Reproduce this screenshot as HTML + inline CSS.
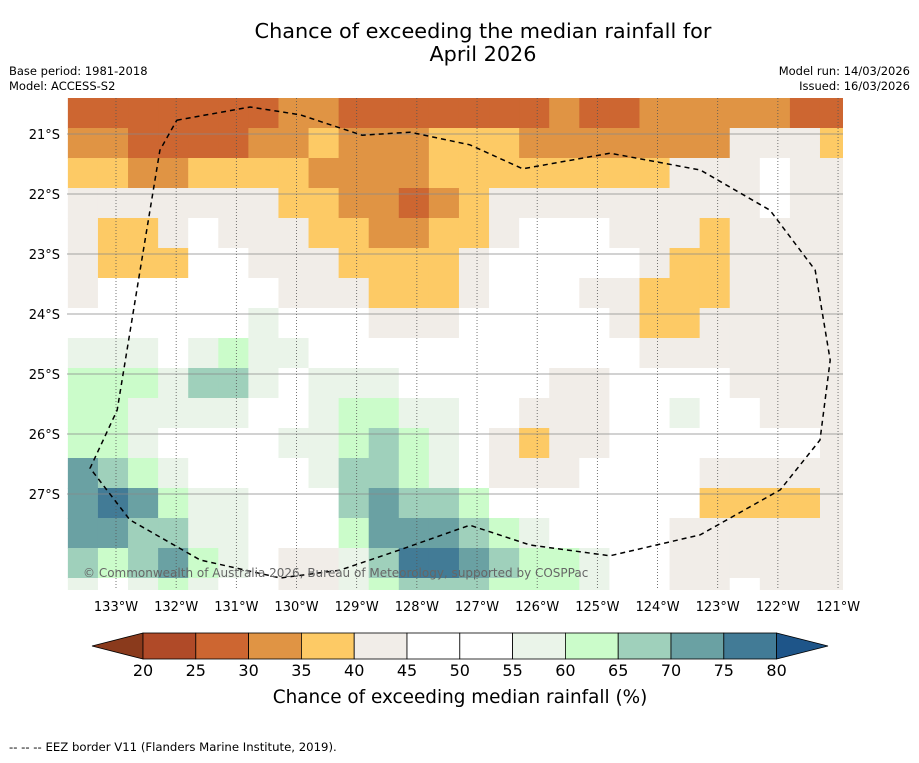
<!DOCTYPE html>
<html><head><meta charset="utf-8"><style>
body{margin:0;background:#fff;font-family:"Liberation Sans","DejaVu Sans",sans-serif}
svg text{font-family:"DejaVu Sans","Liberation Sans",sans-serif}
</style></head><body>
<svg id="c" width="919" height="758" xmlns="http://www.w3.org/2000/svg">
<text x="483" y="38" font-size="20.8" text-anchor="middle">Chance of exceeding the median rainfall for</text>
<text x="483" y="61" font-size="20.8" text-anchor="middle">April 2026</text>
<text x="9" y="75" font-size="11.5">Base period: 1981-2018</text>
<text x="9" y="90" font-size="11.5">Model: ACCESS-S2</text>
<text x="910" y="75" font-size="11.5" text-anchor="end">Model run: 14/03/2026</text>
<text x="910" y="90" font-size="11.5" text-anchor="end">Issued: 16/03/2026</text>
<g id="map"></g>
<g id="grid"></g>
<path id="eez" fill="none" stroke="#000" stroke-width="1.5" stroke-dasharray="5,4"/>
<text x="83" y="577" font-size="12" fill="#666">© Commonwealth of Australia 2026, Bureau of Meteorology, supported by COSPPac</text>
<g id="axes"></g>
<g id="cbar"></g>
<text x="460" y="703" font-size="18.4" text-anchor="middle">Chance of exceeding median rainfall (%)</text>
<text x="9" y="751" font-size="11.7">-- -- -- EEZ border V11 (Flanders Marine Institute, 2019).</text>
</svg>
<script>
const lonTicks=[133,132,131,130,129,128,127,126,125,124,123,122,121];
const latTicks=[21,22,23,24,25,26,27];
const binEdges=[20,25,30,35,40,45,50,55,60,65,70,75,80];
const binColors=["#b04a28","#cd6631","#e09444","#fdca65","#f1ede8","#ffffff","#ffffff","#eaf4e9","#cbfcca","#9fd0bb","#6aa1a3","#427b96"];
const lowColor="#8a3a1c", highColor="#1e5589";
const gridLon0=133.8, gridLat0=20.4, cellDeg=0.5;
const values=[
[27,27,27,27,27,27,27,32,32,27,27,27,27,27,27,27,32,27,27,32,32,32,32,32,27,27],
[32,32,27,27,27,27,32,32,37,32,32,32,37,37,37,32,32,32,32,32,32,32,42,42,42,37],
[37,37,32,32,37,37,37,37,32,32,32,32,37,37,37,37,37,37,37,37,42,42,42,47,42,42],
[42,42,42,42,42,42,42,37,37,32,32,27,32,37,42,42,42,42,42,42,42,42,42,47,42,42],
[42,37,37,42,47,42,42,42,37,37,32,32,37,37,42,47,47,47,42,42,42,37,42,42,42,42],
[42,37,37,37,47,47,42,42,42,37,37,37,37,42,47,47,47,47,47,42,37,37,42,42,42,42],
[42,47,47,47,47,47,47,42,42,42,37,37,37,42,47,47,47,42,42,37,37,37,42,42,42,42],
[47,47,47,47,47,52,57,47,47,47,42,42,42,47,47,47,47,47,42,37,37,42,42,42,42,42],
[57,57,57,52,57,62,57,57,52,52,52,52,52,52,52,52,47,47,47,42,42,42,42,42,42,42],
[62,62,62,57,67,67,57,52,57,57,57,52,52,52,52,52,42,42,47,47,47,47,42,42,42,42],
[62,62,57,57,57,57,52,52,57,62,62,57,57,52,47,42,42,42,47,47,57,47,47,42,42,42],
[62,62,57,52,47,52,52,57,57,62,67,62,57,52,42,37,42,42,47,47,47,47,47,47,47,42],
[72,67,62,57,52,52,47,52,57,67,67,62,57,52,42,42,42,47,47,47,47,42,42,42,42,42],
[72,77,72,62,57,57,52,52,52,67,72,67,67,62,52,52,47,47,47,47,47,37,37,37,37,42],
[72,72,67,67,57,57,52,47,47,62,72,72,72,67,62,57,52,47,47,47,42,42,42,42,42,42],
[67,62,67,72,62,57,52,42,42,57,67,77,77,72,67,62,62,57,52,47,42,42,42,42,42,42],
[57,52,57,62,57,52,52,42,42,57,62,67,67,67,62,62,62,57,52,47,42,42,47,42,42,42]
];
const eezLon=[131.99,130.77,129.94,128.91,128.11,127.12,126.24,124.79,123.29,122.13,121.38,121.13,121.30,121.96,123.29,124.79,126.12,127.12,128.28,129.28,130.27,131.60,132.77,133.43,132.98,132.6,132.27,131.99];
const eezLat=[20.77,20.55,20.68,21.02,20.97,21.18,21.58,21.32,21.6,22.27,23.27,24.77,26.1,26.93,27.68,28.03,27.85,27.52,27.93,28.27,28.4,28.1,27.43,26.57,25.6,23.27,21.27,20.77];
const NS="http://www.w3.org/2000/svg";
const X0=67,X1=843,Y0=98,Y1=590;
const xOf=lon=>116+(133-lon)*60.17;
const yOf=lat=>134+(lat-21)*60;
function colorOf(v){for(let i=0;i<binColors.length;i++){if(v<binEdges[i+1])return binColors[i];}return highColor;}
function mk(tag,attrs,parent){const e=document.createElementNS(NS,tag);for(const k in attrs)e.setAttribute(k,attrs[k]);parent.appendChild(e);return e;}
const map=document.getElementById('map');
const defs=mk('defs',{},document.getElementById('c'));
const cp=mk('clipPath',{id:'clip'},defs);mk('rect',{x:X0,y:Y0,width:X1-X0,height:Y1-Y0},cp);
map.setAttribute('clip-path','url(#clip)');
mk('rect',{x:X0,y:Y0,width:X1-X0,height:Y1-Y0,fill:'#fff'},map);
values.forEach((row,r)=>row.forEach((v,c)=>{
 const lonA=gridLon0-c*cellDeg,latA=gridLat0+r*cellDeg;
 const x=xOf(lonA),y=yOf(latA),w=xOf(lonA-cellDeg)-x,h=yOf(latA+cellDeg)-y;
 const e=mk('rect',{x:x,y:y,width:w+0.6,height:h+0.6,fill:colorOf(v)},map);
 
 
}));
const grid=document.getElementById('grid'),axes=document.getElementById('axes');
lonTicks.forEach(l=>{const x=xOf(l);
 mk('line',{x1:x,y1:Y0,x2:x,y2:Y1,stroke:'#555','stroke-width':0.8,'stroke-dasharray':'1,2'},grid);
 const t=mk('text',{x:x,y:611,'font-size':13,'text-anchor':'middle'},axes);t.textContent=l+'°W';
 
 
});
latTicks.forEach(l=>{const y=yOf(l);
 mk('line',{x1:X0,y1:y,x2:X1,y2:y,stroke:'#888','stroke-width':0.7},grid);
 const t=mk('text',{x:60,y:y+5,'font-size':13,'text-anchor':'end'},axes);t.textContent=l+'°S';
 
 
});
document.getElementById('eez').setAttribute('d',eezLon.map((l,i)=>(i?'L':'M')+xOf(l).toFixed(1)+','+yOf(eezLat[i]).toFixed(1)).join(''));
const cb=document.getElementById('cbar');
const bx0=143,bw=52.8,by=633,bh=26;
mk('polygon',{points:`${bx0},${by} ${bx0},${by+bh} 92,${by+bh/2}`,fill:lowColor,stroke:'#000','stroke-width':0.8},cb);
binColors.forEach((col,i)=>{const e=mk('rect',{x:bx0+i*bw,y:by,width:bw,height:bh,fill:col,stroke:'#000','stroke-width':0.8},cb);
 
 });
const bxe=bx0+binColors.length*bw;
mk('polygon',{points:`${bxe},${by} ${bxe},${by+bh} 828,${by+bh/2}`,fill:highColor,stroke:'#000','stroke-width':0.8},cb);
binEdges.forEach((v,i)=>{const t=mk('text',{x:bx0+i*bw,y:676,'font-size':16,'text-anchor':'middle'},cb);t.textContent=v;
 
 });
</script>
</body></html>
